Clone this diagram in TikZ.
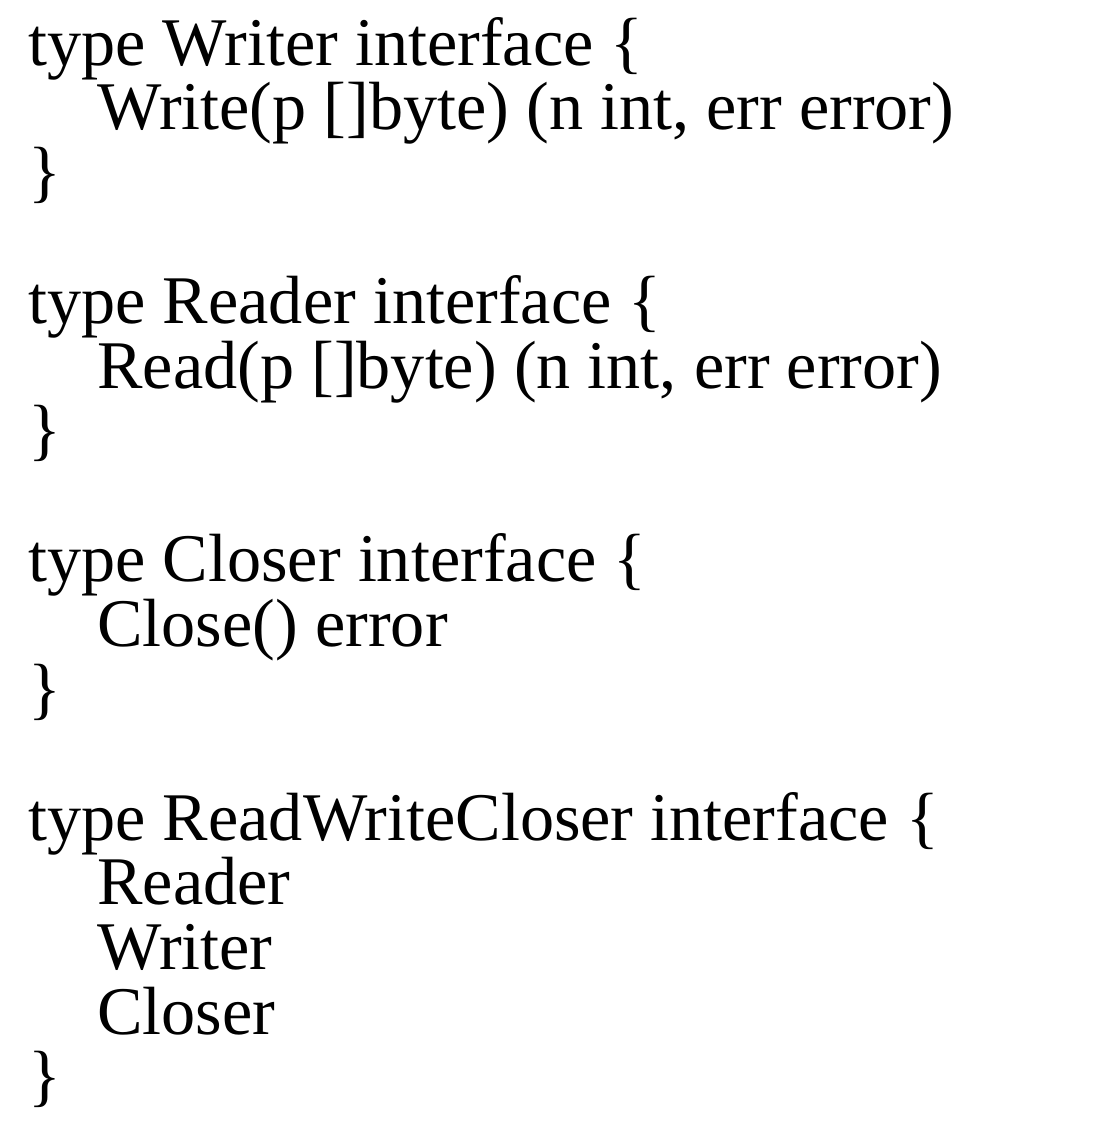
\documentclass[tikz,border=0pt]{standalone}
\usepackage{fontspec}
\setmainfont{Liberation Serif}
\usepackage{tikz}

\begin{document}
\begin{tikzpicture}[x=0.5pt,y=-0.5pt]
  \tikzset{codeline/.style={anchor=base west,inner sep=0pt,font=\fontsize{34.1}{40}\selectfont}}
  \useasboundingbox (0,0) rectangle (1117,1136);
  \foreach \n/\d/\t in {1/0/{type Writer interface \{},
                        2/1/{Write(p []byte) (n int, err error)},
                        3/0/{\}},
                        5/0/{type Reader interface \{},
                        6/1/{Read(p []byte) (n int, err error)},
                        7/0/{\}},
                        9/0/{type Closer interface \{},
                        10/1/{Close() error},
                        11/0/{\}},
                        13/0/{type ReadWriteCloser interface \{},
                        14/1/{Reader},
                        15/1/{Writer},
                        16/1/{Closer},
                        17/0/{\}}} {
    \node[codeline] (line\n) at ({28+69*\d},{65+64.6*(\n-1)}) {\t};
  }
\end{tikzpicture}
\end{document}
